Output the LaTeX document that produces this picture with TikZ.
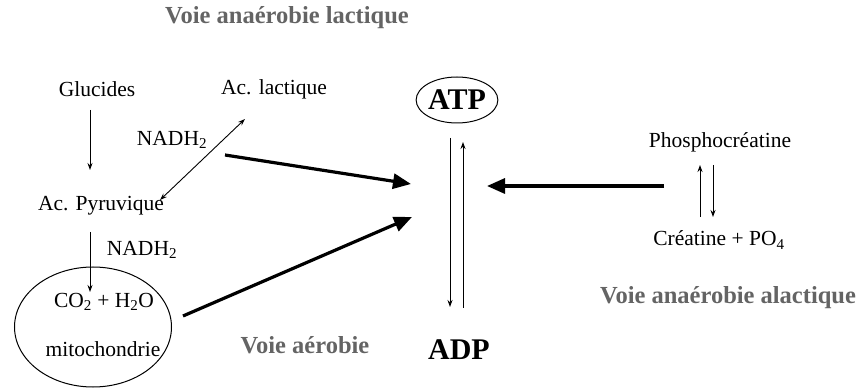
\documentclass[tikz,border=0pt]{standalone}
\usepackage{fontspec}
\setmainfont{Liberation Serif}
\usetikzlibrary{arrows.meta,shapes.geometric}
\definecolor{lbl}{RGB}{100,100,100}
\tikzset{
 txt/.style={inner sep=0pt, font=\fontsize{21.5}{24}\selectfont},
 ttl/.style={inner sep=0pt, text=lbl, font=\bfseries\fontsize{24.5}{28}\selectfont},
 big/.style={inner sep=0pt, font=\bfseries\fontsize{30}{34}\selectfont},
 thinarr/.style={-{Stealth[length=7pt,width=5pt]}, line width=0.9pt},
 heavy/.style={-{Triangle[length=18pt,width=15pt]}, line width=3.2pt},
}
\begin{document}
\begin{tikzpicture}[x=1pt,y=-1pt]
\useasboundingbox (0,0) rectangle (863,390);
% texts
\node[ttl] (t1) at (287,18) {Voie anaérobie lactique};
\node[txt] (gluc) at (97,89) {Glucides};
\node[txt] (lact) at (274,89) {Ac. lactique};
\node[txt] (nad1) at (172,140) {NADH\textsubscript{2}};
\node[txt] (pyr) at (101,206) {Ac. Pyruvique};
\node[txt] (nad2) at (142,250) {NADH\textsubscript{2}};
\node[draw, ellipse, inner sep=0pt, minimum width=157pt, minimum height=120pt, line width=1pt] (mitoell) at (93,327) {};
\node[txt] (co2) at (104,302) {CO\textsubscript{2} + H\textsubscript{2}O};
\node[txt] (mito) at (103,349) {mitochondrie};
\node[ttl] (aer) at (305,345) {Voie aérobie};
\node[draw, ellipse, big, minimum width=80pt, minimum height=46pt, line width=1pt] (atp) at (457,100) {ATP};
\node[big] (adp) at (459,350) {ADP};
\node[txt] (pc) at (720,142) {Phosphocréatine};
\node[txt] (cr) at (719,240) {Créatine + PO\textsubscript{4}};
\node[ttl] (ala) at (728,298) {Voie anaérobie alactique};
% coordinates for connector ends
\coordinate (g1) at (90,110);
\coordinate (g2) at (90,170);
\coordinate (p1) at (90,232);
\coordinate (p2) at (90,292);
\coordinate (d1) at (160,200);
\coordinate (d2) at (245,119);
\coordinate (u1) at (225,155);
\coordinate (u2) at (411,184);
\coordinate (m1) at (183,316);
\coordinate (m2) at (412,217);
\coordinate (r1) at (664,186);
\coordinate (r2) at (487,186);
\coordinate (a1) at (450,138);
\coordinate (a2) at (450,307);
\coordinate (b1) at (463,308);
\coordinate (b2) at (463,142);
\coordinate (c1) at (700,217);
\coordinate (c2) at (700,165);
\coordinate (e1) at (713,165);
\coordinate (e2) at (713,217);
% connectors
\draw[thinarr] (g1) -- (g2);
\draw[thinarr] (p1) -- (p2);
\draw[thinarr, {Stealth[length=7pt,width=5pt]}-{Stealth[length=7pt,width=5pt]}] (d1) -- (d2);
\draw[heavy] (u1) -- (u2);
\draw[heavy] (m1) -- (m2);
\draw[heavy] (r1) -- (r2);
\draw[thinarr] (a1) -- (a2);
\draw[thinarr] (b1) -- (b2);
\draw[thinarr] (c1) -- (c2);
\draw[thinarr] (e1) -- (e2);
\end{tikzpicture}
\end{document}
